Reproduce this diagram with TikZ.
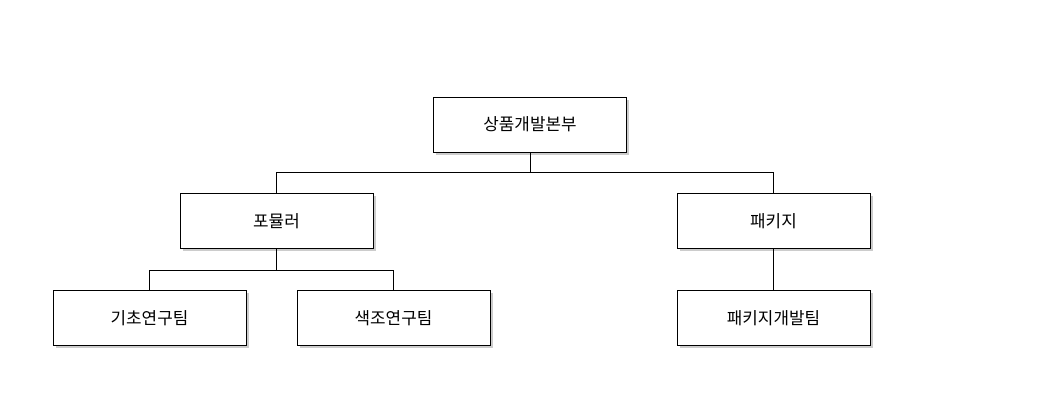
\documentclass[tikz,border=0pt]{standalone}
\usepackage{fontspec}
\newfontfamily\kofont{Noto Sans CJK KR}
\usetikzlibrary{shadows}
\tikzset{
  unit/.style={draw, fill=white, minimum width=193*0.025cm, minimum height=55*0.025cm,
    font=\kofont\fontsize{12}{14}\selectfont, drop shadow={shadow xshift=2pt, shadow yshift=-2pt, opacity=0.4}},
}
\begin{document}
\begin{tikzpicture}[x=0.025cm,y=-0.025cm]
  \useasboundingbox (0,0) rectangle (1061,411);
  \node[unit] (HQ) at (530,124.5) {상품개발본부};
  \node[unit] (FM) at (276.5,221) {포뮬러};
  \node[unit] (PK) at (773.5,221) {패키지};
  \node[unit] (BR) at (149.5,318) {기초연구팀};
  \node[unit] (CR) at (393.5,318) {색조연구팀};
  \node[unit] (PD) at (773.5,318) {패키지개발팀};

  \draw (HQ.south) -- ++(0,20) -| (FM.north);
  \draw (HQ.south) -- ++(0,20) -| (PK.north);
  \draw (FM.south) -- ++(0,22) -| (BR.north);
  \draw (FM.south) -- ++(0,22) -| (CR.north);
  \draw (PK)--(PD);
\end{tikzpicture}
\end{document}
